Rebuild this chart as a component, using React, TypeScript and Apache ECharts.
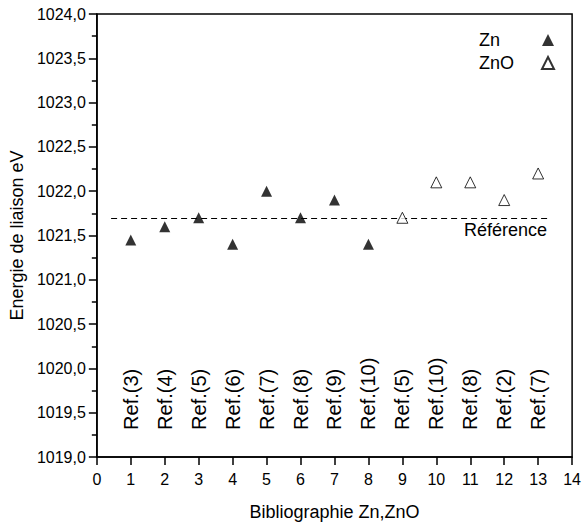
import React, { useEffect, useRef } from "react";
import * as echarts from "echarts";

const znX = [1, 2, 3, 4, 5, 6, 7, 8];
const znY = [1021.45, 1021.6, 1021.7, 1021.4, 1022.0, 1021.7, 1021.9, 1021.4];
const znoX = [9, 10, 11, 12, 13];
const znoY = [1021.7, 1022.1, 1022.1, 1021.9, 1022.2];
const refLabels = [
  "Ref.(3)", "Ref.(4)", "Ref.(5)", "Ref.(6)", "Ref.(7)", "Ref.(8)", "Ref.(9)",
  "Ref.(10)", "Ref.(5)", "Ref.(10)", "Ref.(8)", "Ref.(2)", "Ref.(7)",
];
const referenceValue = 1021.7;
const referenceStart = 0.42;
const referenceEnd = 13.35;

const FONT = "'Liberation Sans', Arial, sans-serif";

export default function App() {
  const ref = useRef<HTMLDivElement>(null);
  useEffect(() => {
    if (!ref.current) return;
    const chart = echarts.init(ref.current, undefined, { renderer: "svg" });
    const labelBase = 1019.3;
    chart.setOption({
      animation: false,
      backgroundColor: "#fff",
      textStyle: { fontFamily: FONT, color: "#000" },
      grid: {
        left: 96,
        right: 7,
        top: 14,
        bottom: 71,
        show: true,
        borderColor: "#000",
        borderWidth: 1.5,
        backgroundColor: "transparent",
      },
      legend: {
        orient: "vertical",
        right: 24,
        top: 26,
        align: "right",
        itemWidth: 12,
        itemHeight: 12,
        itemGap: 5,
        data: ["Zn", "ZnO"],
        formatter: "{a|{name}}",
        textStyle: {
          fontSize: 18,
          color: "#000",
          fontFamily: FONT,
          rich: { a: { width: 58, align: "left", fontSize: 18, fontFamily: FONT, color: "#000" } },
        },
      },
      xAxis: {
        type: "value",
        min: 0,
        max: 14,
        interval: 1,
        name: "Bibliographie Zn,ZnO",
        nameLocation: "middle",
        nameGap: 46,
        nameTextStyle: { fontSize: 18, color: "#000", fontFamily: FONT },
        axisLine: { lineStyle: { color: "#000", width: 1.5 } },
        axisTick: { show: true, inside: false, length: 8, lineStyle: { color: "#000", width: 1.5 } },
        axisLabel: { fontSize: 16, color: "#000", margin: 14, fontFamily: FONT },
        splitLine: { show: false },
      },
      yAxis: {
        type: "value",
        min: 1019,
        max: 1024,
        interval: 0.5,
        name: "Energie de liaison eV",
        nameLocation: "middle",
        nameGap: 65,
        nameRotate: 90,
        nameTextStyle: { fontSize: 18, color: "#000", fontFamily: FONT },
        axisLine: { lineStyle: { color: "#000", width: 1.5 } },
        axisTick: { show: true, inside: false, length: 8, lineStyle: { color: "#000", width: 1.5 } },
        minorTick: { show: true, splitNumber: 2, length: 5, lineStyle: { color: "#000", width: 1.5 } },
        axisLabel: {
          fontSize: 16,
          color: "#000",
          margin: 11,
          fontFamily: FONT,
          formatter: (v: number) => v.toFixed(1).replace(".", ","),
        },
        splitLine: { show: false },
      },
      series: [
        {
          name: "Zn",
          type: "scatter",
          symbol: "triangle",
          symbolSize: 11,
          itemStyle: { color: "#000" },
          data: znX.map((x, i) => [x, znY[i]]),
          z: 5,
          markLine: {
            silent: true,
            symbol: "none",
            lineStyle: { color: "#000", width: 1, type: [6, 4] },
            label: {
              show: true,
              position: "insideEndBottom",
              formatter: "Référence",
              fontSize: 18,
              color: "#000",
              fontFamily: FONT,
              distance: 3,
            },
            data: [
              [
                { coord: [referenceStart, referenceValue] },
                { coord: [referenceEnd, referenceValue] },
              ],
            ],
          },
        },
        {
          name: "ZnO",
          type: "scatter",
          symbol: "triangle",
          symbolSize: 11,
          itemStyle: { color: "#fff", borderColor: "#000", borderWidth: 1 },
          data: znoX.map((x, i) => [x, znoY[i]]),
          z: 5,
        },
        {
          name: "labels",
          type: "scatter",
          symbolSize: 1,
          silent: true,
          itemStyle: { color: "#000", opacity: 0 },
          data: refLabels.map((_, i) => [i + 1, labelBase]),
          label: {
            show: true,
            position: "top",
            distance: 0,
            rotate: 90,
            align: "left",
            verticalAlign: "middle",
            fontSize: 20,
            color: "#000",
            opacity: 1,
            textBorderWidth: 0,
            fontFamily: FONT,
            formatter: (p: any) => refLabels[p.dataIndex],
          },
        },
      ],
    });
    return () => chart.dispose();
  }, []);
  return (
    <div
      ref={ref}
      style={{ position: "fixed", left: 0, top: 0, width: 584, height: 528 }}
    />
  );
}
